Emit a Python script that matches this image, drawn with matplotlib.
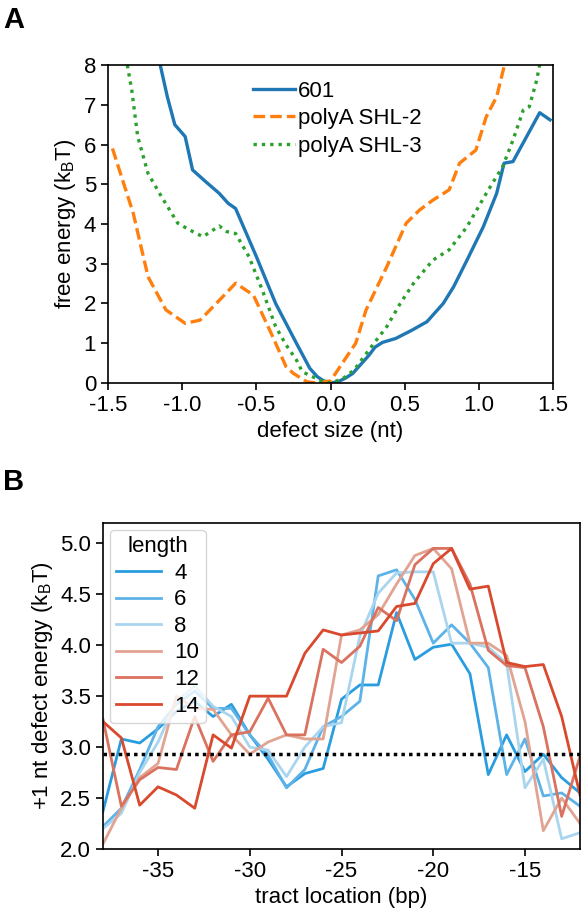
import numpy as np
import matplotlib
matplotlib.use('Agg')
import matplotlib.pyplot as plt

plt.rcParams['font.family'] = ['Liberation Sans', 'DejaVu Sans']
plt.rcParams['mathtext.fontset'] = 'custom'
plt.rcParams['mathtext.rm'] = 'Liberation Sans'
plt.rcParams['mathtext.it'] = 'Liberation Sans:italic'
plt.rcParams['axes.unicode_minus'] = False
plt.rcParams['font.size'] = 16

# ---------------- panel A data ----------------
x_601 = [-1.16, -1.10, -1.05, -0.98, -0.93, -0.84, -0.75, -0.69, -0.64, -0.50, -0.37, -0.23,
         -0.14, -0.09, -0.05, 0.0, 0.05, 0.10, 0.15, 0.20, 0.26, 0.30, 0.35, 0.44, 0.55, 0.65,
         0.76, 0.83, 0.92, 1.03, 1.12, 1.17, 1.23, 1.41, 1.48]
y_601 = [8.2, 7.2, 6.5, 6.2, 5.36, 5.06, 4.77, 4.52, 4.39, 3.18, 2.0, 1.0,
         0.37, 0.16, 0.06, 0.0, 0.03, 0.12, 0.24, 0.45, 0.70, 0.90, 1.02, 1.12, 1.33, 1.54,
         2.0, 2.42, 3.09, 3.93, 4.77, 5.53, 5.57, 6.8, 6.62]

x_shl2 = [-1.47, -1.33, -1.23, -1.11, -0.98, -0.88, -0.77, -0.64, -0.52, -0.41, -0.37, -0.30,
          -0.25, -0.16, -0.10, 0.0, 0.05, 0.08, 0.17, 0.24, 0.38, 0.51, 0.60, 0.69, 0.80, 0.87,
          0.98, 1.05, 1.12, 1.17, 1.20]
y_shl2 = [5.9, 4.27, 2.67, 1.84, 1.50, 1.58, 2.0, 2.51, 2.21, 1.33, 1.0, 0.41,
          0.24, 0.03, 0.0, 0.05, 0.33, 0.5, 1.0, 1.84, 2.93, 4.02, 4.35, 4.60, 4.86, 5.53,
          5.86, 6.70, 7.2, 7.96, 8.4]

x_shl3 = [-1.37, -1.34, -1.30, -1.23, -1.14, -1.03, -0.95, -0.86, -0.75, -0.70, -0.64, -0.55,
          -0.46, -0.37, -0.30, -0.23, -0.19, -0.05, 0.0, 0.08, 0.16, 0.285, 0.38, 0.47, 0.56,
          0.69, 0.80, 0.92, 1.05, 1.16, 1.23, 1.30, 1.34, 1.39, 1.42]
y_shl3 = [8.0, 7.37, 6.2, 5.27, 4.69, 4.02, 3.85, 3.68, 3.95, 3.81, 3.76, 3.18,
          2.34, 1.42, 0.96, 0.58, 0.28, 0.03, 0.0, 0.1, 0.33, 0.96, 1.42, 2.0, 2.51,
          3.09, 3.35, 3.93, 4.77, 5.44, 6.11, 6.87, 6.95, 7.62, 8.2]

# ---------------- panel B data ----------------
tract = list(range(-38, -11))
lengths = [4, 6, 8, 10, 12, 14]
len_colors = ['#2a9de0', '#5db3e8', '#a9d5ee', '#e2a492', '#da7260', '#d9492e']
e4 = [2.37, 3.08, 3.04, 3.18, 3.35, 3.45, 3.30, 3.42, 3.12, 2.88, 2.61, 2.74, 2.79,
      3.47, 3.61, 3.61, 4.32, 3.86, 3.98, 4.01, 3.72, 2.73, 3.12, 2.76, 2.93, 2.70, 2.55]
e6 = [2.22, 2.40, 2.78, 3.20, 3.42, 3.55, 3.38, 3.38, 3.12, 2.92, 2.60, 2.78, 3.20,
      3.30, 3.45, 4.68, 4.74, 4.45, 4.02, 4.20, 4.02, 3.78, 2.73, 3.08, 2.52, 2.55, 2.42]
e8 = [2.20, 2.35, 2.75, 3.05, 3.45, 3.60, 3.40, 3.30, 3.00, 2.97, 2.71, 3.00, 3.20,
      3.24, 4.09, 4.51, 4.71, 4.72, 4.72, 4.02, 4.02, 3.98, 3.82, 2.60, 2.88, 2.10, 2.16]
e10 = [2.05, 2.40, 2.70, 2.84, 3.50, 3.38, 3.37, 3.12, 2.93, 3.05, 3.12, 3.08, 3.08,
       4.10, 4.15, 4.30, 4.60, 4.88, 4.95, 4.75, 4.02, 4.02, 3.90, 3.25, 2.18, 2.50, 2.25]
e12 = [3.27, 2.42, 2.68, 2.80, 2.78, 3.30, 2.86, 3.12, 3.15, 3.48, 3.12, 3.12, 3.96,
       3.83, 3.99, 4.37, 4.24, 4.79, 4.95, 4.95, 4.60, 3.95, 3.80, 3.78, 3.20, 2.32, 2.91]
e14 = [3.25, 3.09, 2.43, 2.61, 2.53, 2.40, 3.12, 2.99, 3.50, 3.50, 3.50, 3.92, 4.15,
       4.10, 4.12, 4.14, 4.38, 4.41, 4.80, 4.95, 4.55, 4.58, 3.83, 3.79, 3.81, 3.30, 2.53]
threshold = 2.93

fig = plt.figure(figsize=(5.82, 9.21), dpi=100)

# ---- A ----
ax1 = fig.add_axes([0.1856, 0.5842, 0.7646, 0.3452])
ax1.plot(x_601, y_601, color='#1f77b4', lw=2.4, label='601')
ax1.plot(x_shl2, y_shl2, color='#ff7f0e', lw=2.4, ls=(0, (3.5, 1.5)), label='polyA SHL-2')
ax1.plot(x_shl3, y_shl3, color='#2ca02c', lw=2.4, ls=(0, (1, 1.5)), label='polyA SHL-3')
ax1.set_xlim(-1.5, 1.5)
ax1.set_ylim(0, 8)
ax1.set_xticks(np.arange(-1.5, 1.51, 0.5))
ax1.set_xticklabels(['%.1f' % v for v in np.arange(-1.5, 1.51, 0.5)])
ax1.set_yticks(range(0, 9))
ax1.set_xlabel('defect size (nt)')
ax1.set_ylabel('free energy (k$_\\mathrm{B}$T)')
ax1.legend(loc='upper left', bbox_to_anchor=(0.29, 1.0), frameon=False,
           handlelength=1.9, handletextpad=0.15, labelspacing=0.3, borderaxespad=0.3)

# ---- B ----
ax2 = fig.add_axes([0.177, 0.0782, 0.8196, 0.354])
series = [e4, e6, e8, e10, e12, e14]
for L, col, vals in zip(lengths, len_colors, series):
    ax2.plot(tract, vals, color=col, lw=2.0, label=str(L))
ax2.axhline(threshold, color='black', lw=2.5, ls=(0, (1, 1.2)))
ax2.set_xlim(-38, -12)
ax2.set_ylim(2.0, 5.2)
ax2.set_xticks([-35, -30, -25, -20, -15])
ax2.set_yticks(np.arange(2.0, 5.01, 0.5))
ax2.set_yticklabels(['%.1f' % v for v in np.arange(2.0, 5.01, 0.5)])
ax2.set_xlabel('tract location (bp)')
ax2.set_ylabel('+1 nt defect energy (k$_\\mathrm{B}$T)')
ax2.legend(title='length', loc='upper left', handlelength=2.0, handletextpad=0.6,
           labelspacing=0.25, borderaxespad=0.3, title_fontsize=16, borderpad=0.3)

for ax in (ax1, ax2):
    ax.tick_params(direction='out', length=5, width=1.2, labelsize=16)
    for s in ax.spines.values():
        s.set_linewidth(1.2)

fig.text(0.005, 0.978, 'A', fontsize=21, fontweight='bold', va='center', ha='left')
fig.text(0.005, 0.477, 'B', fontsize=21, fontweight='bold', va='center', ha='left')

fig.savefig('out.png', dpi=100)
